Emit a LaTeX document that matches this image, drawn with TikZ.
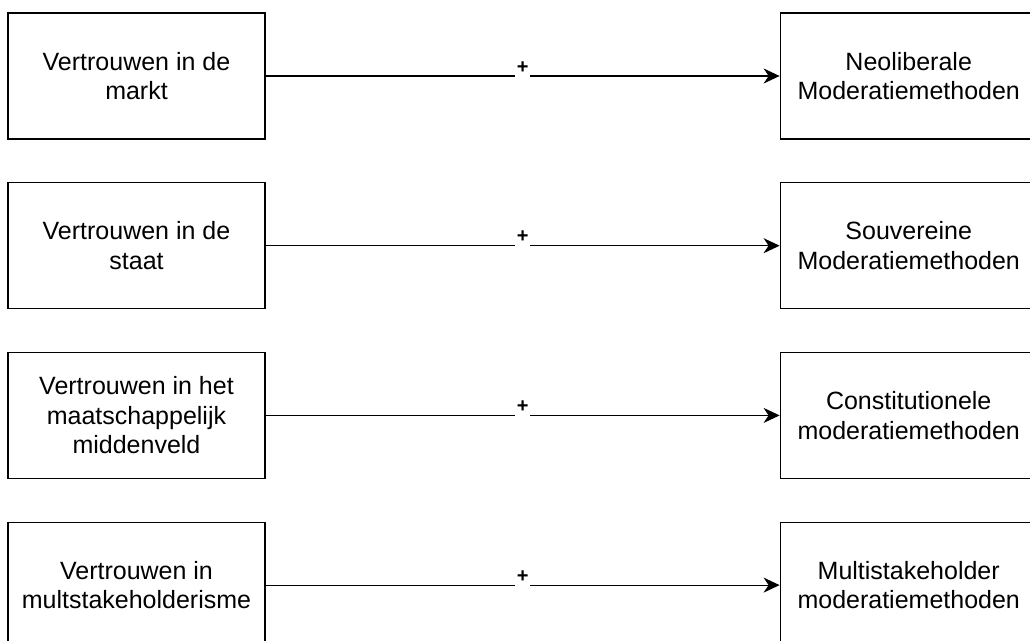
\documentclass[tikz,border=0pt]{standalone}
\usepackage{fontspec}
\setmainfont{Liberation Sans}
\usetikzlibrary{positioning,arrows.meta}

\begin{document}
\begin{tikzpicture}[
    x=1pt, y=1pt,
    node distance=42.5pt,
    every node/.style={font=\fontsize{25}{29.5}\selectfont},
    box/.style={draw, line width=1.2pt, minimum width=257pt, minimum height=126pt, align=center, inner sep=0pt},
    link/.style={line width=1.2pt, -{Stealth[length=16pt, width=15pt, inset=5pt]}},
    sign/.style={fill=white, inner xsep=2pt, inner ysep=5pt, anchor=base, yshift=3pt, font=\fontsize{20}{24}\selectfont\bfseries}
]
\clip (0,0) rectangle (1030,-640);

% linker kolom
\node[box] (left1) at (136.5,-76) {Vertrouwen in de\\markt};
\node[box, below=of left1] (left2) {Vertrouwen in de\\staat};
\node[box, below=of left2] (left3) {Vertrouwen in het\\maatschappelijk\\middenveld};
\node[box, below=of left3] (left4) {Vertrouwen in\\multstakeholderisme};

% rechter kolom
\node[box, right=514pt of left1] (right1) {Neoliberale\\Moderatiemethoden};
\node[box, below=of right1] (right2) {Souvereine\\Moderatiemethoden};
\node[box, below=of right2] (right3) {Constitutionele\\moderatiemethoden};
\node[box, below=of right3] (right4) {Multistakeholder\\moderatiemethoden};

% pijlen
\draw[link] (left1) -- node[sign] (plus1) {+} (right1);
\draw[link] (left2) -- node[sign] (plus2) {+} (right2);
\draw[link] (left3) -- node[sign] (plus3) {+} (right3);
\draw[link] (left4) -- node[sign] (plus4) {+} (right4);

\end{tikzpicture}
\end{document}
